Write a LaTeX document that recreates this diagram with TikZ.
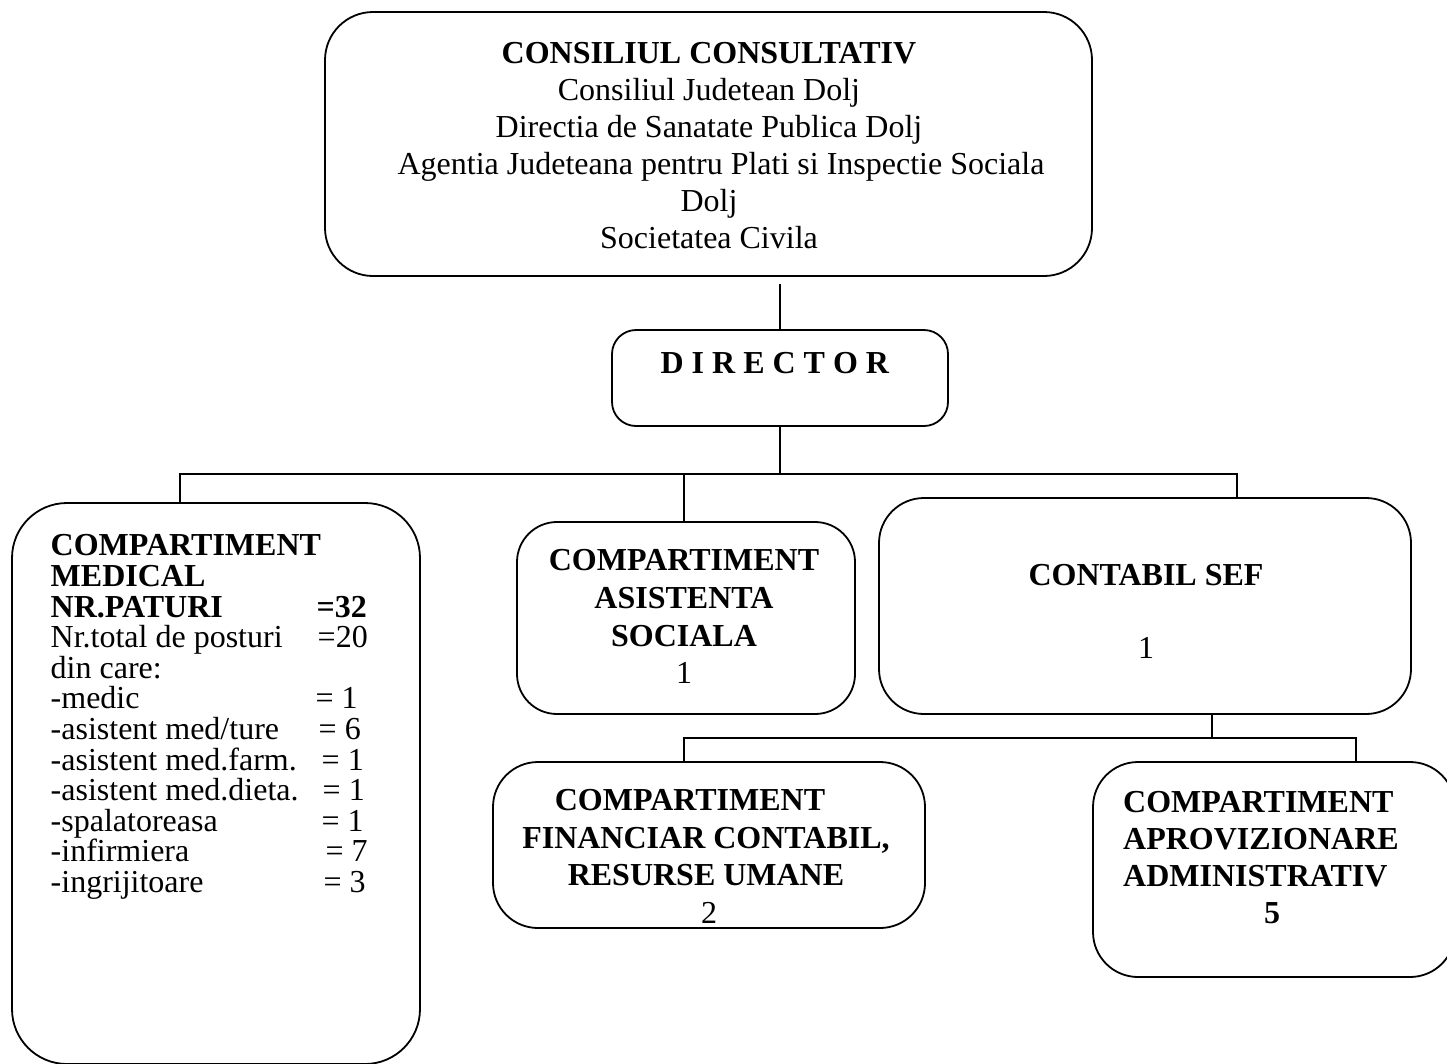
\documentclass[tikz,border=0pt]{standalone}
\usepackage{fontspec}
\setmainfont{Liberation Serif}[BoldFont={Liberation Serif Bold}]
\newcommand\mrow[3]{\makebox[#2pt][l]{#1}#3}
\begin{document}
\begin{tikzpicture}[x=1pt,y=-1pt,
  box/.style={draw, line width=1.8pt, rectangle, inner sep=0pt},
  conn/.style={line width=1.5pt},
  txt/.style={inner sep=0pt, font=\fontsize{32}{37}\selectfont}]
\clip (0,0) rectangle (1447,1063);
\fill[white] (0,0) rectangle (1447,1063);
% boxes
\node[box, minimum width=767pt, minimum height=264pt, rounded corners=48pt] (top) at (708.5,144) {};
\node[box, minimum width=336pt, minimum height=96pt, rounded corners=24pt] (dir) at (780,378) {};
\node[box, minimum width=408pt, minimum height=561pt, rounded corners=55pt] (med) at (216,783.5) {};
\node[box, minimum width=338pt, minimum height=192pt, rounded corners=40pt] (asis) at (686,618) {};
\node[box, minimum width=532pt, minimum height=216pt, rounded corners=45pt] (cont) at (1145,606) {};
\node[box, minimum width=432pt, minimum height=166pt, rounded corners=45pt] (fin) at (709,845) {};
\node[box, minimum width=362pt, minimum height=215pt, rounded corners=45pt] (aprov) at (1274,869.5) {};
% texts
\node[txt, align=center, anchor=north] (toptxt) at (709,42.5)
  {\textbf{CONSILIUL CONSULTATIV}\\
   Consiliul Judetean Dolj\\
   Directia de Sanatate Publica Dolj\\
   \hspace*{24pt}Agentia Judeteana pentru Plati si Inspectie Sociala\\
   Dolj\\
   Societatea Civila};
\node[txt, anchor=north] (dirtxt) at (775,352.5) {\textbf{D I R E C T O R}};
\node[txt, align=left, anchor=north west, font=\fontsize{32}{30.6}\selectfont] (medtxt) at (50.5,534.5)
  {\textbf{COMPARTIMENT}\\
   \textbf{MEDICAL}\\
   \mrow{\textbf{NR.PATURI}}{266}{\textbf{=32}}\\
   \mrow{Nr.total de posturi}{267}{=20}\\
   din care:\\
   \mrow{-medic}{265}{= 1}\\
   \mrow{-asistent med/ture}{268}{= 6}\\
   \mrow{-asistent med.farm.}{271}{= 1}\\
   \mrow{-asistent med.dieta.}{272}{= 1}\\
   \mrow{-spalatoreasa}{271}{= 1}\\
   \mrow{-infirmiera}{275}{= 7}\\
   \mrow{-ingrijitoare}{273}{= 3}};
\node[txt, align=center, anchor=north, font=\fontsize{32}{37.7}\selectfont] (asistxt) at (684,549.4)
  {\textbf{COMPARTIMENT}\\ \textbf{ASISTENTA}\\ \textbf{SOCIALA}\\ 1};
\node[txt, align=center, anchor=north] (conttxt) at (1146,564.4)
  {\textbf{CONTABIL SEF}\\[36pt] 1};
\node[txt, align=center, anchor=north, font=\fontsize{32}{37.5}\selectfont] (fintxt) at (706,789.4)
  {\textbf{COMPARTIMENT}\hspace*{32pt}\\
   \textbf{FINANCIAR CONTABIL,}\\
   \textbf{RESURSE UMANE}\hspace*{14pt}\\
   \hspace*{6pt}2};
\node[txt, align=left, anchor=north west] (aprovtxt) at (1123,791.4)
  {\textbf{COMPARTIMENT}\\
   \textbf{APROVIZIONARE}\\
   \textbf{ADMINISTRATIV}\\
   \hspace*{141pt}\textbf{5}};
% connectors
\coordinate (bus) at (780,474);
\coordinate (bus2) at (1212,738);
\draw[conn] ([yshift=-7pt]top.south -| dir.north) -- (dir.north);
\draw[conn] (dir.south) -- (bus);
\draw[conn] ([xshift=-36pt]med.north) -- ([xshift=-36pt]med.north |- bus)
  -- ([xshift=92pt]cont.north |- bus) -- ([xshift=92pt]cont.north);
\draw[conn] ([xshift=-2pt]asis.north) -- ([xshift=-2pt]asis.north |- bus);
\draw[conn] ([xshift=67pt]cont.south) -- (bus2);
\draw[conn] ([xshift=-25pt]fin.north) -- ([xshift=-25pt]fin.north |- bus2)
  -- ([xshift=82pt]aprov.north |- bus2) -- ([xshift=82pt]aprov.north);
\end{tikzpicture}
\end{document}
